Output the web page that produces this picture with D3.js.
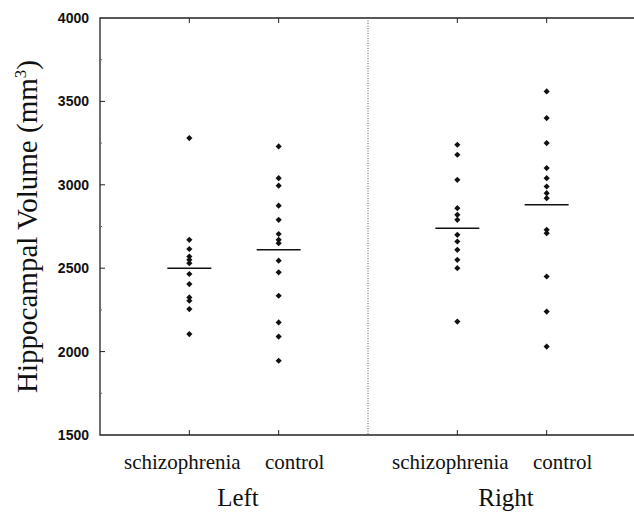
<!DOCTYPE html>
<html>
<head>
<meta charset="utf-8">
<script src="https://cdn.jsdelivr.net/npm/d3@7"></script>
<style>
  body { margin: 0; background: #fff; }
  svg { display: block; }
</style>
</head>
<body>
<div id="chart"></div>
<script>
const groups = ["schizophrenia", "control", "schizophrenia", "control"];
const groupPos = [1, 2, 4, 5];           /* slot on the x scale */
const sides = ["Left", "Right"];
const sidePos = [1.5, 4.5];

const leftSchizo = [3280, 2670, 2615, 2570, 2550, 2530, 2465, 2405, 2325, 2305, 2255, 2105];
const leftControl = [3230, 3040, 2995, 2875, 2790, 2705, 2670, 2650, 2545, 2475, 2335, 2175, 2090, 1945];
const rightSchizo = [3240, 3180, 3030, 2860, 2820, 2790, 2700, 2660, 2610, 2550, 2500, 2180];
const rightControl = [3560, 3400, 3250, 3100, 3040, 2990, 2950, 2920, 2730, 2710, 2450, 2240, 2030];
const series = [leftSchizo, leftControl, rightSchizo, rightControl];

const means = [2500, 2610, 2740, 2880];
const yTicks = [1500, 2000, 2500, 3000, 3500, 4000];
const yMinor = [1750, 2250, 2750, 3250, 3750];

const W = 634, H = 514;
const margin = {top: 18, left: 100, bottom: 79};

const svg = d3.select("#chart").append("svg")
  .attr("width", W)
  .attr("height", H);

const x = d3.scaleLinear()
  .domain([0, 6])
  .range([margin.left, 636]);

const y = d3.scaleLinear()
  .domain([1500, 4000])
  .range([H - margin.bottom, margin.top]);

const y0 = y(1500), y1 = y(4000);

/* frame */
svg.append("path")
  .attr("d", `M${x(6)},${y1}H${x(0)}V${y0}H${x(6)}`)
  .attr("fill", "none")
  .attr("stroke", "#222")
  .attr("stroke-width", 1.3);

/* dotted divider between left and right */
svg.append("line")
  .attr("x1", x(3)).attr("x2", x(3))
  .attr("y1", y1).attr("y2", y0)
  .attr("stroke", "#555")
  .attr("stroke-width", 1)
  .attr("stroke-dasharray", "1,1.5");

/* y ticks, inward */
svg.selectAll(".ytick").data(yTicks.slice(1, -1)).join("line")
  .attr("x1", x(0)).attr("x2", x(0) + 5)
  .attr("y1", d => y(d)).attr("y2", d => y(d))
  .attr("stroke", "#222");

svg.selectAll(".yminor").data(yMinor).join("line")
  .attr("x1", x(0)).attr("x2", x(0) + 2)
  .attr("y1", d => y(d)).attr("y2", d => y(d))
  .attr("stroke", "#666");

svg.selectAll(".ylab").data(yTicks).join("text")
  .attr("x", 89)
  .attr("y", d => y(d) + 5)
  .attr("text-anchor", "end")
  .attr("font-family", "Liberation Sans, Arial, sans-serif")
  .attr("font-weight", "bold")
  .attr("font-size", 14)
  .attr("fill", "#111")
  .text(d => d);

/* category ticks top and bottom */
svg.selectAll(".ttick").data(groupPos).join("line")
  .attr("x1", d => x(d)).attr("x2", d => x(d))
  .attr("y1", y1).attr("y2", y1 + 5)
  .attr("stroke", "#222");

svg.selectAll(".btick").data(groupPos).join("line")
  .attr("x1", d => x(d)).attr("x2", d => x(d))
  .attr("y1", y0).attr("y2", y0 - 5)
  .attr("stroke", "#222");

/* points */
const diamond = d3.symbol().type(d3.symbolSquare).size(19);

series.forEach((vals, i) => {
  svg.append("g").selectAll("path").data(vals).join("path")
    .attr("d", diamond)
    .attr("transform", d => `translate(${x(groupPos[i])},${y(d)}) rotate(45)`)
    .attr("fill", "#111");
});

/* mean bars */
svg.selectAll(".mean").data(means).join("line")
  .attr("x1", (d, i) => x(groupPos[i]) - 22)
  .attr("x2", (d, i) => x(groupPos[i]) + 22)
  .attr("y1", d => y(d)).attr("y2", d => y(d))
  .attr("stroke", "#111")
  .attr("stroke-width", 1.5);

/* category labels (set a bit right of the ticks, as printed) */
const labelShift = [-7, 16, -7, 16];
svg.selectAll(".glab").data(groups).join("text")
  .attr("x", (d, i) => x(groupPos[i]) + labelShift[i])
  .attr("y", 469)
  .attr("text-anchor", "middle")
  .attr("font-family", "Liberation Serif, Times New Roman, serif")
  .attr("font-size", 21)
  .attr("fill", "#111")
  .text(d => d);

svg.selectAll(".slab").data(sides).join("text")
  .attr("x", (d, i) => x(sidePos[i]) + 4)
  .attr("y", 506)
  .attr("text-anchor", "middle")
  .attr("font-family", "Liberation Serif, Times New Roman, serif")
  .attr("font-size", 25)
  .attr("fill", "#111")
  .text(d => d);

/* y axis title */
const title = svg.append("text")
  .attr("transform", `translate(37,${(y0 + y1) / 2}) rotate(-90)`)
  .attr("text-anchor", "middle")
  .attr("font-family", "Liberation Serif, Times New Roman, serif")
  .attr("font-size", 29)
  .attr("fill", "#111");
title.append("tspan").text("Hippocampal Volume (mm");
title.append("tspan").attr("font-size", 17).attr("dy", -11).text("3");
title.append("tspan").attr("dy", 11).text(")");
</script>
</body>
</html>
